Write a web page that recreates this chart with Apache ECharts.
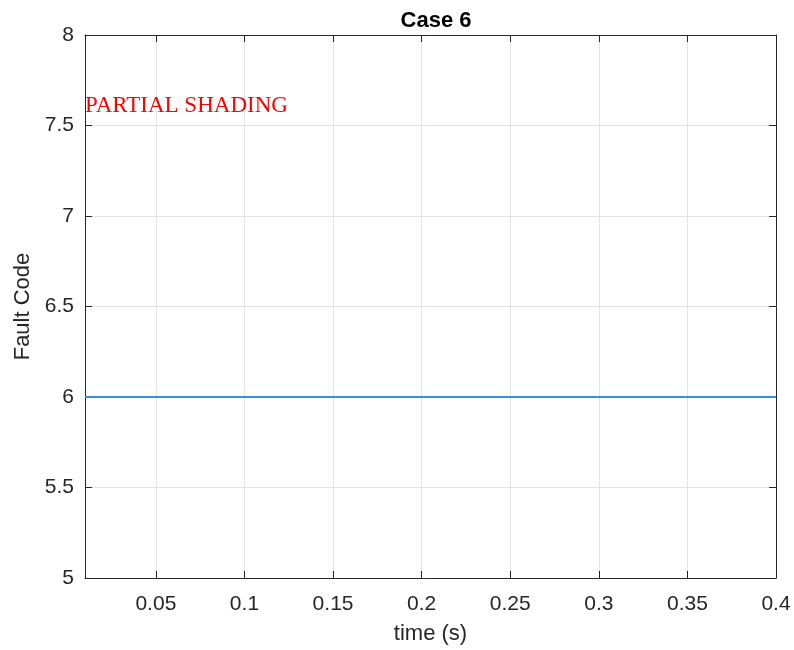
<!DOCTYPE html>
<html>
<head>
<meta charset="utf-8">
<script src="https://cdn.jsdelivr.net/npm/echarts@6/dist/echarts.min.js"></script>
<style>html,body{margin:0;padding:0;background:#fff;}#c{width:794px;height:650px;}</style>
</head>
<body>
<div id="c"></div>
<script>
const titleText = 'Case 6';
const xName = 'time (s)';
const yName = 'Fault Code';
const timeValues = [0.01, 0.4];
const faultCode = [6, 6];
const xTicks = [0.05, 0.1, 0.15, 0.2, 0.25, 0.3, 0.35, 0.4];
const yTicks = [5, 5.5, 6, 6.5, 7, 7.5, 8];
const annotation = { text: 'PARTIAL SHADING', x: 0.01, y: 7.61 };
const xRange = [0.01, 0.4];
const yRange = [5, 8];

const axisColor = '#262626';
const gridColor = '#e3e3e3';
const font = 'Arial, "Liberation Sans", Helvetica, sans-serif';

const chart = echarts.init(document.getElementById('c'), null, { renderer: 'canvas' });

function xAxisCfg(pos, showLabels) {
  return {
    type: 'value', position: pos, min: xRange[0], max: xRange[1],
    name: showLabels ? xName : '', nameLocation: 'middle', nameGap: 45,
    nameTextStyle: { color: axisColor, fontSize: 22, fontFamily: font },
    axisLine: { show: true, onZero: false, lineStyle: { color: axisColor, width: 1 } },
    axisTick: { show: true, inside: true, length: 7, customValues: xTicks, lineStyle: { color: axisColor } },
    axisLabel: { show: showLabels, customValues: xTicks, color: axisColor, fontSize: 21, fontFamily: font, margin: 16 },
    splitLine: { show: showLabels, lineStyle: { color: gridColor, width: 1 } }
  };
}
function yAxisCfg(pos, showLabels) {
  return {
    type: 'value', position: pos, min: yRange[0], max: yRange[1], interval: 0.5,
    name: showLabels ? yName : '', nameLocation: 'middle', nameGap: 48,
    nameTextStyle: { color: axisColor, fontSize: 22, fontFamily: font },
    axisLine: { show: true, onZero: false, lineStyle: { color: axisColor, width: 1 } },
    axisTick: { show: true, inside: true, length: 7, lineStyle: { color: axisColor } },
    axisLabel: { show: showLabels, color: axisColor, fontSize: 21, fontFamily: font, margin: 11 },
    splitLine: { show: showLabels, lineStyle: { color: gridColor, width: 1 } }
  };
}

chart.setOption({
  backgroundColor: '#fff',
  animation: false,
  title: {
    text: titleText, left: 431, top: 5, textAlign: 'center',
    textStyle: { color: '#000', fontSize: 22, fontWeight: 'bold', fontFamily: font }
  },
  grid: { left: 85, right: 18, top: 35, bottom: 72, containLabel: false },
  xAxis: [xAxisCfg('bottom', true), xAxisCfg('top', false)],
  yAxis: [yAxisCfg('left', true), yAxisCfg('right', false)],
  series: [{
    type: 'line',
    data: timeValues.map((t, i) => [t, faultCode[i]]),
    showSymbol: false,
    lineStyle: { color: '#3b8ed2', width: 1.8 },
    itemStyle: { color: '#3b8ed2' },
    markPoint: {
      symbol: 'circle', symbolSize: 0, silent: true,
      data: [{ coord: [annotation.x, annotation.y] }],
      label: {
        show: true, formatter: annotation.text, position: [0, 0],
        align: 'left', verticalAlign: 'middle',
        color: '#ff0000', fontSize: 23, fontFamily: '"Liberation Serif", "Times New Roman", serif'
      }
    }
  }]
});
</script>
</body>
</html>
